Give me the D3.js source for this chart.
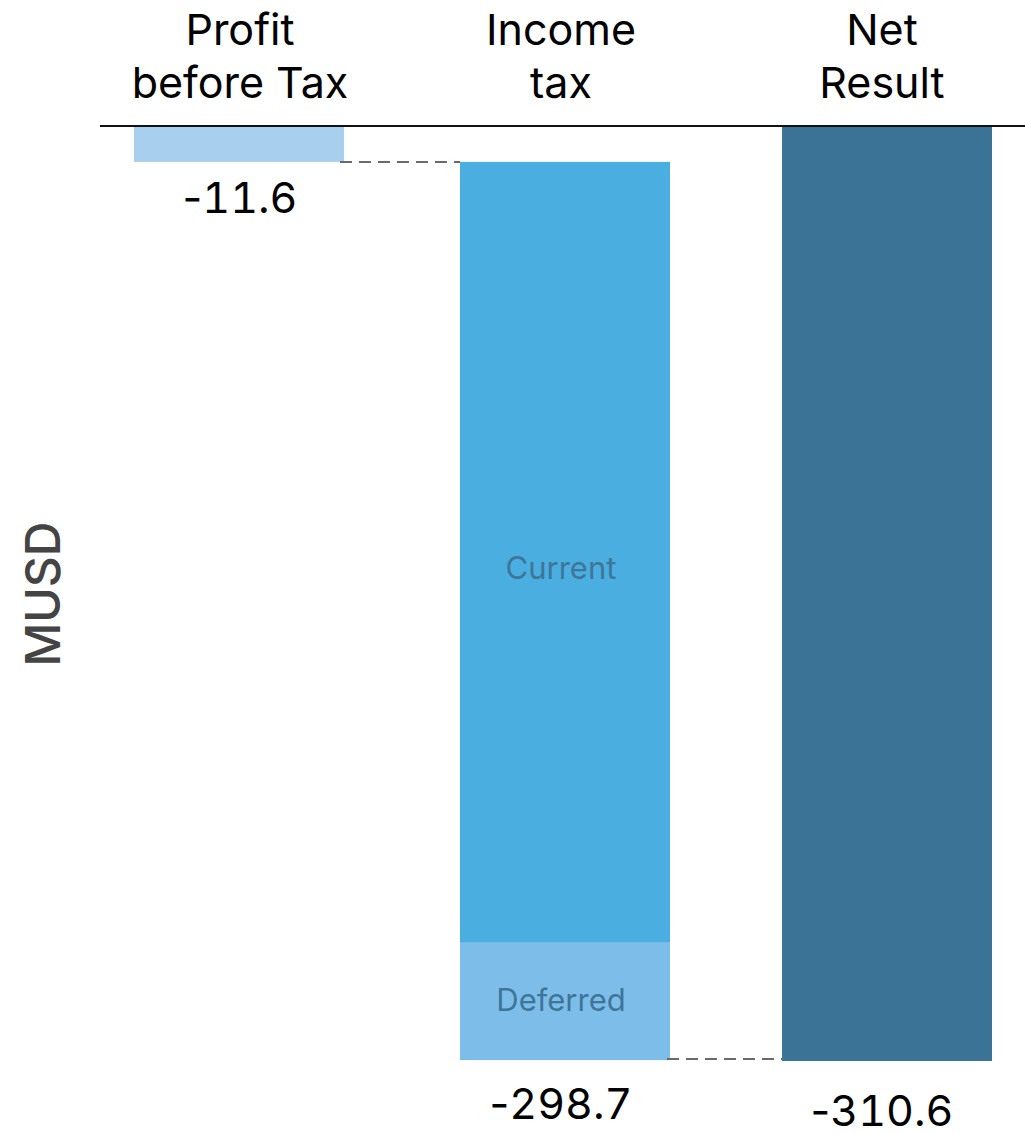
<!DOCTYPE html>
<html>
<head>
<meta charset="utf-8">
<script src="https://cdn.jsdelivr.net/npm/d3@7"></script>
<style>
  body { margin: 0; background: #fff; }
  svg text { font-family: Inter, "Noto Sans", sans-serif; }
</style>
</head>
<body>
<div id="container"></div>
<script>
var width = 1025, height = 1133;

// data
var categories = ['Profit before Tax', 'Income tax', 'Net Result'];
var categoryLines = [['Profit', 'before Tax'], ['Income', 'tax'], ['Net', 'Result']];
var values = [-11.6, -298.7, -310.6];
var valueLabels = ['-11.6', '-298.7', '-310.6'];
var taxParts = ['Current', 'Deferred'];
var taxValues = [-259.7, -39.0];

var colors = {
	profit: '#a8d0ee',
	Current: '#4baee0',
	Deferred: '#7dbde9',
	net: '#3b7396'
};

var svg = d3.select('div#container')
	.append('svg')
	.attr('width', width)
	.attr('height', height);

var x = d3.scaleBand()
	.domain(categories)
	.range([134, 992])
	.paddingInner(0.352)
	.paddingOuter(0);

// text sits on its own band, a little to the left of the bars
var xLabel = d3.scaleBand()
	.domain(categories)
	.range([136, 986])
	.paddingInner(0.352)
	.paddingOuter(0);

var y = d3.scaleLinear()
	.domain([0, -310.6])
	.range([127, 1061]);

// waterfall running totals
var start = [0, values[0], 0];
var end = [values[0], values[0] + values[1], values[2]];

// Profit before tax bar
svg.append('rect')
	.attr('x', x(categories[0]))
	.attr('y', y(0))
	.attr('width', x.bandwidth())
	.attr('height', y(values[0]) - y(0))
	.attr('fill', colors.profit);

// Income tax, stacked current + deferred
var acc = start[1];
var taxG = svg.append('g');
taxParts.forEach(function(p, i) {
	var top = acc, bottom = acc + taxValues[i];
	taxG.append('rect')
		.attr('x', x(categories[1]) + 2)
		.attr('y', y(top))
		.attr('width', x.bandwidth())
		.attr('height', y(bottom) - y(top))
		.attr('fill', colors[p]);
	taxG.append('text')
		.attr('x', xLabel(categories[1]) + xLabel.bandwidth() / 2)
		.attr('y', i == 0 ? 579 : y(top + taxValues[i] / 2) + 10)
		.attr('text-anchor', 'middle')
		.attr('font-size', '31px')
		.attr('fill', '#3e7599')
		.text(p);
	acc = bottom;
});

// Net result bar
svg.append('rect')
	.attr('x', x(categories[2]))
	.attr('y', y(0))
	.attr('width', x.bandwidth())
	.attr('height', y(values[2]) - y(0))
	.attr('fill', colors.net);

// dashed connectors
svg.append('line')
	.attr('x1', x(categories[0]) + x.bandwidth() - 4)
	.attr('x2', x(categories[1]) + 2)
	.attr('y1', y(end[0]))
	.attr('y2', y(end[0]))
	.attr('stroke', '#6a6a6a')
	.attr('stroke-width', 2)
	.attr('stroke-dasharray', '12,7');

svg.append('line')
	.attr('x1', x(categories[1]) + x.bandwidth() - 1)
	.attr('x2', x(categories[2]))
	.attr('y1', y(end[1]) - 1)
	.attr('y2', y(end[1]) - 1)
	.attr('stroke', '#6a6a6a')
	.attr('stroke-width', 2)
	.attr('stroke-dasharray', '12,7');

// zero line
svg.append('line')
	.attr('x1', 100)
	.attr('x2', width)
	.attr('y1', y(0) - 1)
	.attr('y2', y(0) - 1)
	.attr('stroke', '#111')
	.attr('stroke-width', 2);

// category labels
categories.forEach(function(c, i) {
	var t = svg.append('text')
		.attr('text-anchor', 'middle')
		.attr('font-size', '43px')
		.attr('fill', '#000');
	categoryLines[i].forEach(function(line, j) {
		t.append('tspan')
			.attr('x', xLabel(c) + xLabel.bandwidth() / 2)
			.attr('y', 45 + j * 53)
			.text(line);
	});
});

// value labels (tabular digits, plain minus)
var labelOffset = [51, 59, 65];
categories.forEach(function(c, i) {
	var t = svg.append('text')
		.attr('x', xLabel(c) + xLabel.bandwidth() / 2)
		.attr('y', y(end[i]) + labelOffset[i])
		.attr('text-anchor', 'middle')
		.attr('font-size', '43px')
		.attr('fill', '#000');
	t.append('tspan').text(valueLabels[i].slice(0, 1));
	t.append('tspan')
		.style('font-feature-settings', '"tnum"')
		.text(valueLabels[i].slice(1));
});

// axis title
svg.append('text')
	.attr('transform', 'translate(60,594) rotate(-90)')
	.attr('text-anchor', 'middle')
	.attr('font-size', '48px')
	.attr('font-weight', 500)
	.attr('fill', '#444')
	.text('MUSD');
</script>
</body>
</html>
